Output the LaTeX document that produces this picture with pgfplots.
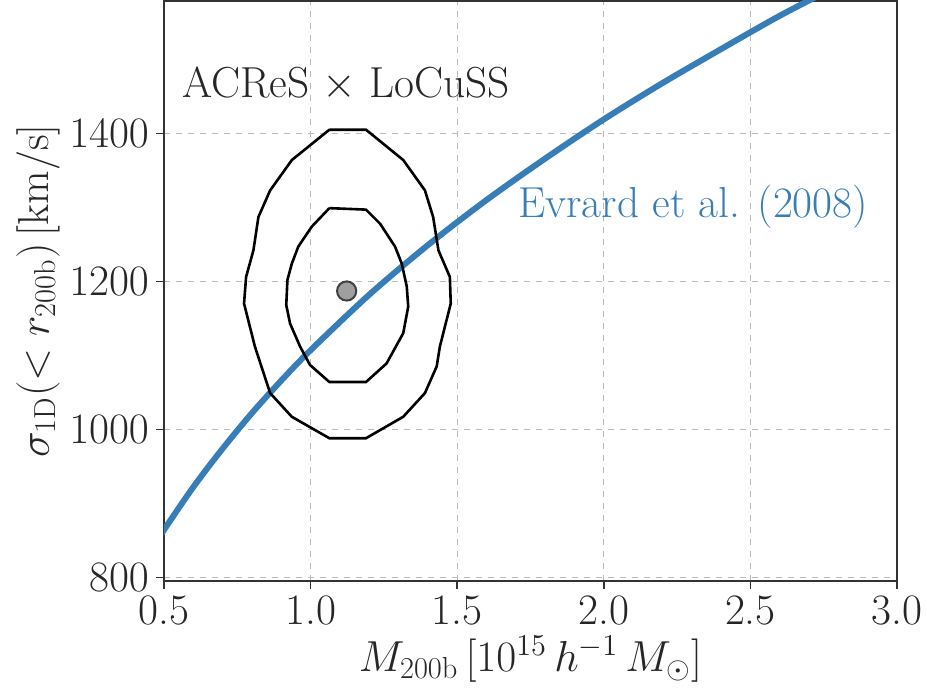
\RequirePackage{fix-cm}
\documentclass[border=0pt]{standalone}
\usepackage{fontspec}
\usepackage{pgfplots}
\pgfplotsset{compat=1.18}
\definecolor{evblue}{RGB}{55,126,184}
\definecolor{spine}{RGB}{51,51,51}
\definecolor{txt}{RGB}{38,38,38}
\begin{document}
\begin{tikzpicture}
\begin{axis}[
  scale only axis, width=366.5pt, height=290pt,
  xmin=0.5, xmax=3.0, ymin=795, ymax=1579,
  xtick={0.5,1.0,1.5,2.0,2.5,3.0},
  xticklabels={0.5,1.0,1.5,2.0,2.5,3.0},
  ytick={800,1000,1200,1400},
  /pgf/number format/1000 sep={},
  axis line style={spine, line width=0.8pt},
  tick style={spine, line width=0.8pt},
  tick align=outside, major tick length=4pt,
  xtick pos=bottom, ytick pos=left,
  grid=major, major grid style={gray!55, dashed, line width=0.5pt},
  tick label style={font=\fontsize{21.7}{26}\selectfont, text=txt},
  label style={font=\fontsize{21.7}{26}\selectfont, text=txt},
  xlabel={$M_{\rm 200b}\,[10^{15}\,h^{-1}\,M_\odot]$},
  ylabel={$\sigma_{\rm 1D}(<r_{\rm 200b})\,[{\rm km/s}]$},
  xlabel style={yshift=1.5pt},
  ylabel style={yshift=-2pt},
]
% Evrard et al. (2008) relation
\addplot[evblue, line width=3pt, smooth] coordinates {
  (0.45,832) (0.5,864) (0.6,922) (0.7,974) (0.8,1022) (0.9,1066) (1.0,1107)
  (1.2,1182) (1.4,1249) (1.6,1310) (1.8,1366) (2.0,1419)
  (2.2,1468) (2.4,1514) (2.6,1559) (2.8,1600)
};
% outer contour
\addplot[black, line width=1.3pt] coordinates {
  (1.064,1405) (1.189,1405) (1.316,1364) (1.390,1323) (1.418,1287)
  (1.436,1242) (1.475,1206) (1.478,1170) (1.441,1112) (1.430,1085)
  (1.390,1049) (1.316,1017) (1.189,988) (1.064,988) (0.936,1017)
  (0.862,1049) (0.810,1112) (0.773,1170) (0.780,1206) (0.805,1242)
  (0.822,1287) (0.862,1323) (0.936,1364) (1.064,1405)
};
% inner contour
\addplot[black, line width=1.3pt] coordinates {
  (1.064,1299) (1.189,1297) (1.237,1278) (1.288,1247) (1.311,1224)
  (1.328,1193) (1.333,1166) (1.316,1130) (1.259,1089) (1.189,1064)
  (1.064,1064) (0.998,1087) (0.964,1112) (0.930,1143) (0.917,1168)
  (0.921,1202) (0.936,1224) (0.958,1247) (1.004,1274) (1.064,1299)
};
\addplot[only marks, mark=*, mark size=4.8pt,
  mark options={fill=gray!75, draw=black!75, line width=1pt}]
  coordinates {(1.123,1187)};
\node[anchor=base west, inner sep=0, text=txt, font=\fontsize{21.7}{26}\selectfont]
  at (axis cs:0.561,1449) {ACReS $\times$ LoCuSS};
\node[anchor=base west, inner sep=0, text=evblue, font=\fontsize{21.7}{26}\selectfont]
  at (axis cs:1.707,1287) {Evrard et al. (2008)};
\end{axis}
\pgfresetboundingbox
\path (-82pt,-55.5pt) rectangle (381.5pt,290.5pt);
\end{tikzpicture}
\end{document}
